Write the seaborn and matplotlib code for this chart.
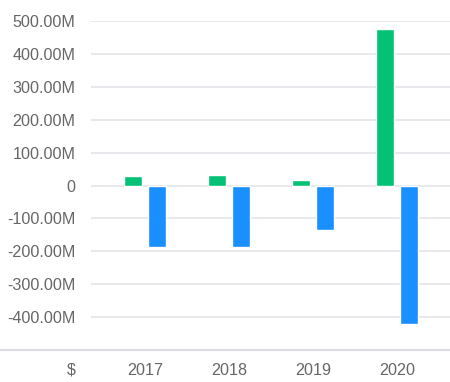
import pandas as pd
import matplotlib
matplotlib.use("Agg")
import matplotlib.pyplot as plt
import seaborn as sns
from matplotlib.ticker import FuncFormatter
from matplotlib.lines import Line2D

# 데이터
years = ["2017", "2018", "2019", "2020"]
inflow = [30, 33, 18, 477]          # 단위: M
outflow = [-187, -187, -135, -420]  # 단위: M
y_ticks = [-400, -300, -200, -100, 0, 100, 200, 300, 400, 500]

df = pd.DataFrame({
    "year": years * 2,
    "value": inflow + outflow,
    "kind": ["inflow"] * len(years) + ["outflow"] * len(years),
})

sns.set_style("white")
plt.rcParams["font.family"] = ["Liberation Sans", "DejaVu Sans"]

text_color = "#666666"
grid_color = "#e6e7ec"

fig = plt.figure(figsize=(4.5, 3.82), dpi=100)
ax = fig.add_axes([91 / 450, 32 / 382, 359 / 450, 329 / 382])

sns.barplot(data=df, x="year", y="value", hue="kind",
            palette={"inflow": "#05c175", "outflow": "#1a8fff"},
            saturation=1, width=0.58, gap=0.26, legend=False, ax=ax, zorder=3)

ax.set_xlim(-0.643, 3.631)
ax.set_ylim(-500, 500)
ax.set_yticks(y_ticks)
ax.yaxis.set_major_formatter(FuncFormatter(lambda v, p: "0" if v == 0 else f"{v:.2f}M"))
for t in y_ticks:
    ax.axhline(t, color=grid_color, lw=1.3, zorder=1)

for s in ax.spines.values():
    s.set_visible(False)
ax.tick_params(axis="both", length=0, labelsize=11.6, colors=text_color)
ax.tick_params(axis="y", pad=11)
ax.tick_params(axis="x", pad=9.5)
ax.set_xlabel("")
ax.set_ylabel("")

# 하단 축선 (전체 폭)
fig.add_artist(Line2D([0, 1], [32 / 382, 32 / 382], color="#dcdde2", lw=1.5,
                      transform=fig.transFigure))
fig.text(76 / 450, 12 / 382, "$", ha="right", va="center",
         fontsize=11.6, color=text_color)

fig.savefig("out.png", dpi=100)
